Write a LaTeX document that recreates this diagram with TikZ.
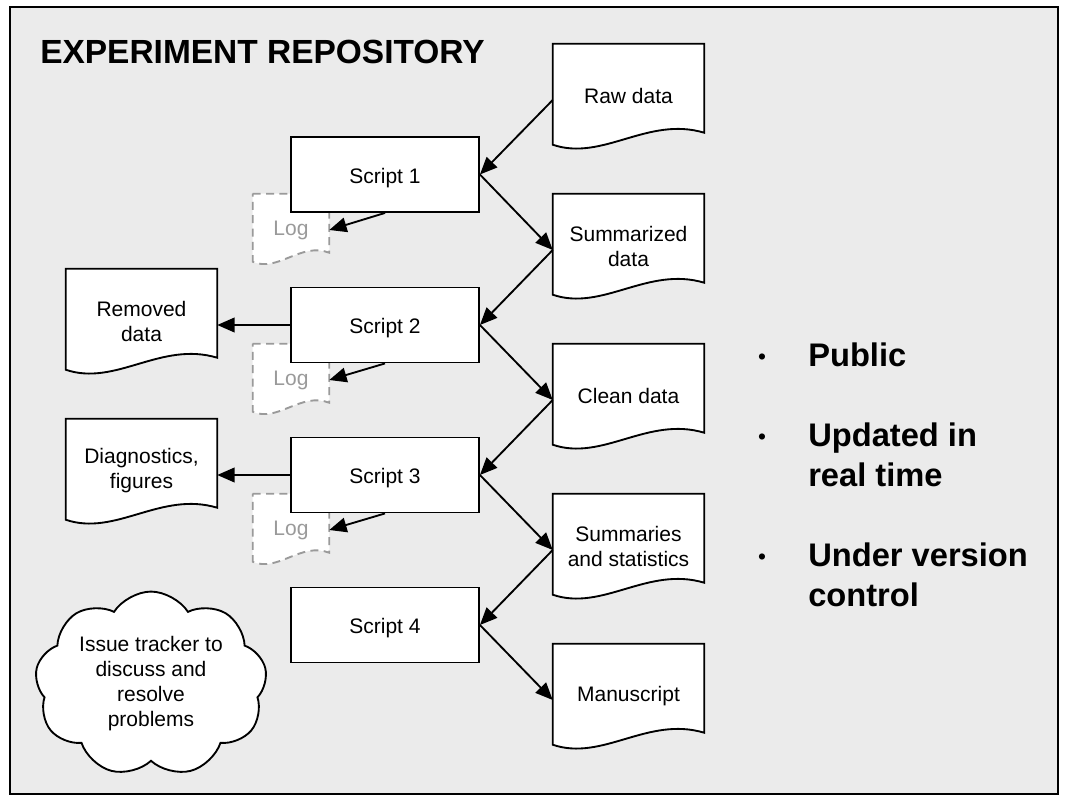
\documentclass[tikz,border=0pt]{standalone}
\usepackage{fontspec}
\setmainfont{Liberation Sans}
\usetikzlibrary{arrows.meta,calc,shapes.symbols}
\pgfdeclarelayer{bg}
\pgfdeclarelayer{docs}
\pgfsetlayers{bg,docs,main}
\definecolor{panel}{HTML}{EBEBEB}
\definecolor{loggray}{HTML}{9A9A9A}
\newcommand\docoutline[1]{(#1.north west) -- (#1.north east) -- ($(#1.north east)+(0,89)$) .. controls ($(#1.north west)+(95,72)$) and ($(#1.north west)+(50,118)$) .. ($(#1.north west)+(0,101)$) -- cycle}
\newcommand\logoutline[1]{(#1.north west) -- (#1.north east) -- ($(#1.north east)+(0,59)$) .. controls ($(#1.north west)+(48,48)$) and ($(#1.north west)+(25,79)$) .. ($(#1.north west)+(0,68)$) -- cycle}
\begin{document}
\begin{tikzpicture}[x=0.75pt,y=-0.75pt,
  lbl/.style={font=\fontsize{15.75}{18.75}\selectfont, align=center},
  doclbl/.style={lbl, inner sep=0pt, yshift=3pt},
  docnode/.style={minimum width=113.25pt, minimum height=84pt, inner sep=0pt},
  lognode/.style={minimum width=57pt, minimum height=54pt, inner sep=0pt, text=loggray, font=\fontsize{15.75}{18.75}\selectfont},
  scriptbox/.style={lbl, draw, fill=white, line width=1.4pt, minimum width=141pt, minimum height=56.25pt, inner sep=0pt, text height=13pt, text depth=0pt},
  docline/.style={draw, fill=white, line width=1.4pt, line join=miter},
  logline/.style={draw=loggray, fill=white, line width=1.4pt, dash pattern=on 6pt off 4pt},
  arr/.style={line width=1.4pt, -{Triangle[length=13pt,width=11pt]}},
  bul/.style={font=\fontsize{24.5}{30}\selectfont\bfseries, anchor=base west, inner sep=0pt},
  dot/.style={font=\fontsize{17}{20}\selectfont, anchor=base, inner sep=0pt},
]
\useasboundingbox (0,0) rectangle (1065,803);
\begin{pgfonlayer}{bg}
\draw[fill=panel, line width=1.4pt] (10,7) rectangle (1058,794);
\end{pgfonlayer}

\node[font=\fontsize{25.1}{30}\selectfont\bfseries, anchor=base west, inner sep=0pt] (title) at (40,63) {EXPERIMENT REPOSITORY};

% documents
\node[docnode, label={[doclbl]center:Raw data}] (raw) at (628.5,100) {};
\node[docnode, label={[doclbl]center:{Summarized\\data}}] (summ) at (628.5,250) {};
\node[docnode, label={[doclbl]center:Clean data}] (clean) at (628.5,400) {};
\node[docnode, label={[doclbl]center:{Summaries\\and statistics}}] (stats) at (628.5,550) {};
\node[docnode, label={[doclbl]center:Manuscript}] (manu) at (628.5,700) {};
\node[docnode, label={[doclbl]center:{Removed\\data}}] (removed) at (141.5,325) {};
\node[docnode, label={[doclbl]center:{Diagnostics,\\figures}}] (diag) at (141.5,475) {};

% logs
\node[lognode] (log1) at (291,230) {Log};
\node[lognode] (log2) at (291,380) {Log};
\node[lognode] (log3) at (291,530) {Log};

\begin{pgfonlayer}{docs}
\foreach \d in {raw,summ,clean,stats,manu,removed,diag}{\path[docline] \docoutline{\d};}
\foreach \l in {log1,log2,log3}{\path[logline] \logoutline{\l};}
\end{pgfonlayer}

% scripts
\node[scriptbox] (s1) at (385,174.5) {Script 1};
\node[scriptbox] (s2) at (385,325) {Script 2};
\node[scriptbox] (s3) at (385,475) {Script 3};
\node[scriptbox] (s4) at (385,625) {Script 4};

% cloud
\node[cloud, cloud puffs=9, cloud puff arc=115, aspect=1.3, draw, fill=white, line width=1.4pt, minimum width=174pt, minimum height=135pt, lbl, inner sep=0pt] (cloud) at (151,684) {Issue tracker to\\discuss and\\resolve\\problems};

% connectors
\draw[arr] (raw.west) -- (s1.east);
\draw[arr] (s1.east) -- (summ.west);
\draw[arr] (summ.west) -- (s2.east);
\draw[arr] (s2.east) -- (clean.west);
\draw[arr] (clean.west) -- (s3.east);
\draw[arr] (s3.east) -- (stats.west);
\draw[arr] (stats.west) -- (s4.east);
\draw[arr] (s4.east) -- (manu.west);
\draw[arr] (s2.west) -- (removed.east);
\draw[arr] (s3.west) -- (diag.east);
\draw[arr] (s1.south) -- (log1.east);
\draw[arr] (s2.south) -- (log2.east);
\draw[arr] (s3.south) -- (log3.east);

% bullets
\node[dot] (d1) at (762,364) {•};
\node[dot] (d2) at (762,444) {•};
\node[dot] (d3) at (762,564) {•};
\node[bul] (b1) at (808,366) {Public};
\node[bul] (b2) at (808,446) {Updated in};
\node[bul] (b2b) at (808,486) {real time};
\node[bul] (b3) at (808,566) {Under version};
\node[bul] (b3b) at (808,606) {control};
\end{tikzpicture}
\end{document}
